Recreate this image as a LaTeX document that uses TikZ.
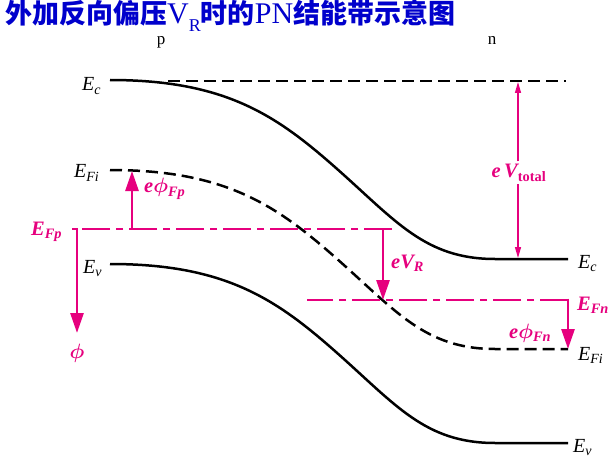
\documentclass[tikz,border=0pt]{standalone}
\usepackage{amsmath}
\usepackage{fontspec}
\setmainfont{Liberation Serif}
\newfontfamily\cjk{Noto Sans CJK SC}
\usetikzlibrary{arrows.meta}
\definecolor{mag}{RGB}{230,0,126}
\definecolor{ttl}{RGB}{0,0,204}
\begin{document}
\begin{tikzpicture}[x=1pt,y=-1pt,
  band/.style={line width=2.5pt, black},
  banddash/.style={band, dash pattern=on 12pt off 6pt},
  fermi/.style={line width=2.8pt, mag, dash pattern=on 28pt off 6pt on 7pt off 6pt},
  bigarrow/.style={line width=2.8pt, mag, -{Triangle[length=20pt,width=13pt]}},
  thinarrow/.style={line width=1.3pt, mag, -{Triangle[length=11pt,width=6pt]}},
  blab/.style={anchor=base west, inner sep=0pt, font=\fontsize{20}{20}\selectfont\itshape},
  mlab/.style={anchor=base west, inner sep=0pt, text=mag, font=\fontsize{20.5}{20.5}\selectfont\bfseries\itshape},
  side/.style={anchor=base, inner sep=0pt, font=\fontsize{17}{17}\selectfont}
]
\fill[white] (0,0) rectangle (614,460);
\useasboundingbox (0,0) rectangle (614,460);

% title
\node[anchor=base west, inner sep=0pt, text=ttl] (title) at (5,24)
  {{\cjk\bfseries\fontsize{27}{27}\selectfont 外加反向偏压}{\fontsize{30}{30}\selectfont V}\raisebox{-8pt}{\fontsize{18}{18}\selectfont R}{\cjk\bfseries\fontsize{27}{27}\selectfont 时的}{\fontsize{30}{30}\selectfont PN}{\cjk\bfseries\fontsize{27}{27}\selectfont 结能带示意图}};

\node[side] (pl) at (161,45) {p};
\node[side] (nl) at (492,45) {n};

% band edges
\draw[band] (110,80) .. controls (225,80) and (276,115) .. (336,168) .. controls (396,221) and (425,259) .. (495,259) -- (568,259);
\draw[band, shift={(0,184)}] (110,80) .. controls (225,80) and (276,115) .. (336,168) .. controls (396,221) and (425,259) .. (495,259) -- (568,259);
\draw[banddash, shift={(0,90)}] (110,80) .. controls (225,80) and (276,115) .. (336,168) .. controls (396,221) and (425,259) .. (495,259) -- (568,259);
\draw[banddash] (168,81) -- (566,81);

% Fermi levels
\coordinate (fpR) at (392,229);
\coordinate (fpL) at (72,229);
\coordinate (fnR) at (568,300);
\coordinate (fnL) at (307,300);
\draw[fermi] (fpR) -- (fpL);
\draw[fermi] (fnR) -- (fnL);

% arrows
\coordinate (a1) at (132,229);
\coordinate (a1t) at (132,171);
\coordinate (a2) at (77,228);
\coordinate (a2t) at (77,333);
\coordinate (a3) at (383,228);
\coordinate (a3t) at (383,300);
\coordinate (a4) at (568,298.6);
\coordinate (a4t) at (568,349);
\draw[bigarrow] (a1) -- (a1t);
\draw[bigarrow] (a2) -- (a2t);
\draw[bigarrow] (a3) -- (a3t);
\draw[bigarrow] (a4) -- (a4t);

% labels
\node[blab] (ecl) at (82,91) {E\textsubscript{c}};
\node[blab] (efil) at (74,178) {E\textsubscript{Fi}};
\node[mlab] (efp) at (31,235) {E\textsubscript{Fp}};
\node[blab] (evl) at (83,273) {E\textsubscript{v}};
\node[mlab, anchor=center] (phi) at (77,353) {$\boldsymbol{\phi}$};
\node[mlab] (ephifp) at (144,193) {e$\boldsymbol{\phi}$\textsubscript{Fp}};
\node[mlab] (evr) at (391,268) {eV\textsubscript{R}};
\node[blab] (ecr) at (578,268) {E\textsubscript{c}};
\node[mlab] (efn) at (577,310) {E\textsubscript{Fn}};
\node[mlab] (ephifn) at (509,338) {e$\boldsymbol{\phi}$\textsubscript{Fn}};
\node[blab] (efir) at (578,360) {E\textsubscript{Fi}};
\node[blab] (evrr) at (573,452) {E\textsubscript{v}};

% total potential
\node[mlab, anchor=base, inner ysep=3pt] (evt) at (519,178) {e\,V\textsubscript{\upshape total}};
\coordinate (tvt) at (518,82);
\coordinate (bvt) at (518,258);
\draw[thinarrow] (evt.north -| tvt) -- (tvt);
\draw[thinarrow] (evt.south -| bvt) -- (bvt);
\end{tikzpicture}
\end{document}
